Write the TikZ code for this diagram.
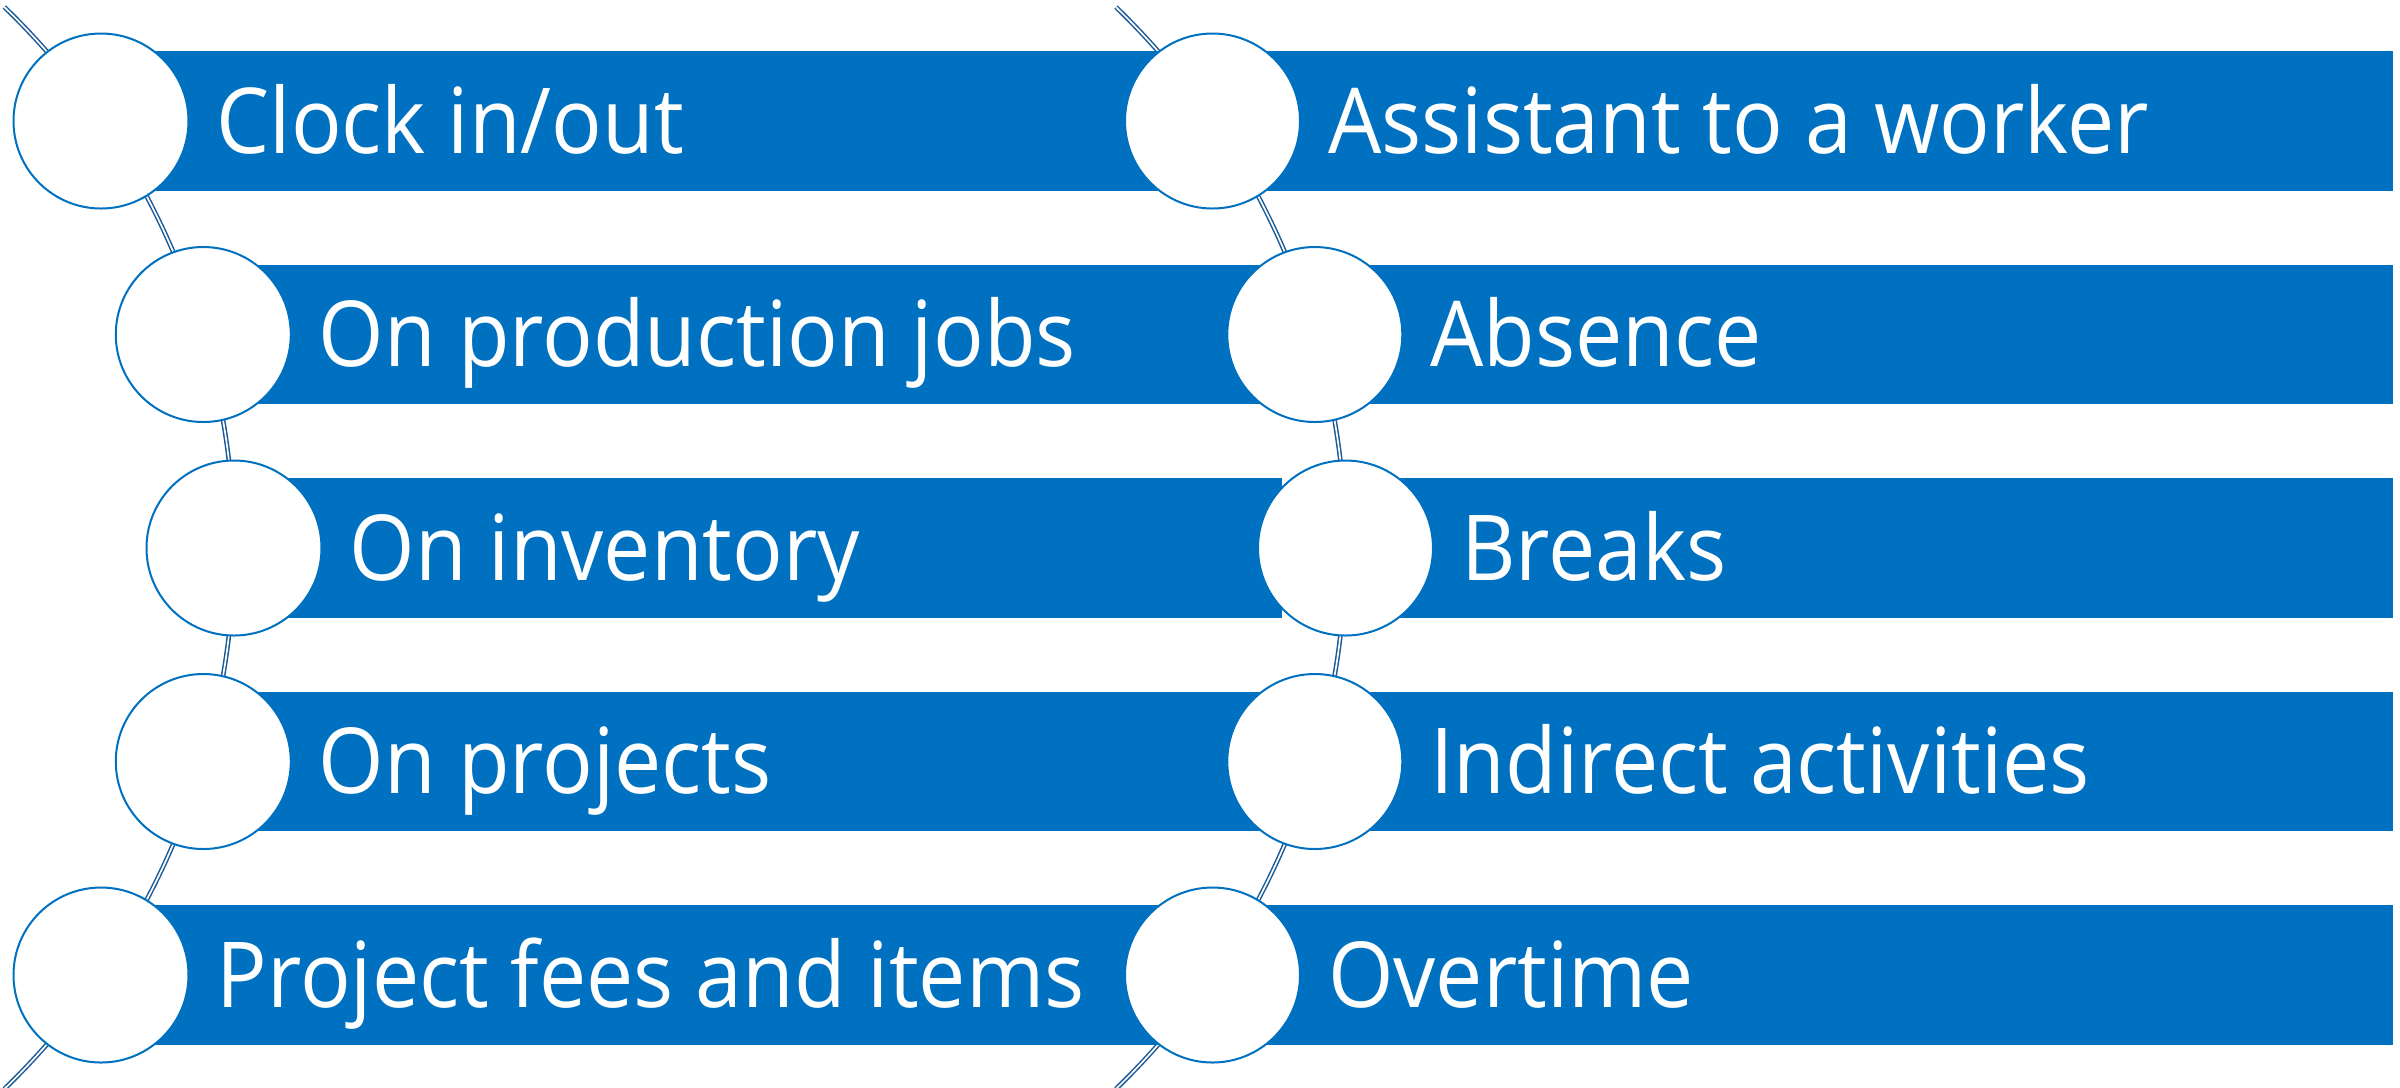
\documentclass[tikz,border=0pt]{standalone}
\usepackage{fontspec}
\setmainfont[FakeStretch=0.925]{Open Sans}
\definecolor{barblue}{HTML}{0070C0}
\definecolor{arcblue}{HTML}{1A5A96}
\begin{document}
\begin{tikzpicture}[x=0.3pt,y=-0.3pt,
  bar/.style={fill=barblue},
  dot/.style={circle, draw=barblue, fill=white, line width=0.6pt, minimum size=52.5pt, inner sep=0pt},
  lbl/.style={anchor=base west, text=white, font=\fontsize{27.3}{30}\selectfont, inner sep=0pt},
  rail/.style={draw=arcblue, double=white, line width=0.45pt, double distance=0.5pt}]
\useasboundingbox (0,0) rectangle (2400,1087);
% arcs
\coordinate (LA) at (-518,548);
\coordinate (RA) at (593.5,548);
\draw[rail] (LA) ++(-46:752) coordinate (Ltop) arc[start angle=-46, end angle=46, radius=752] coordinate (Lbot);
\draw[rail] (RA) ++(-46:752) coordinate (Rtop) arc[start angle=-46, end angle=46, radius=752] coordinate (Rbot);
% bars
\foreach \x/\y in {101/121, 203.3/334.5, 234/548, 203.3/761.5, 101/975}{
  \fill[bar] (\x,\y-69.65) rectangle (1282.3,\y+69.65);
}
\foreach \x/\y in {1212.5/121, 1314.8/334.5, 1345.5/548, 1314.8/761.5, 1212.5/975}{
  \fill[bar] (\x,\y-69.65) rectangle (2392.7,\y+69.65);
}
% circles
\node[dot] (l1) at (101,121) {};
\node[dot] (l2) at (203.3,334.5) {};
\node[dot] (l3) at (234,548) {};
\node[dot] (l4) at (203.3,761.5) {};
\node[dot] (l5) at (101,975) {};
\node[dot] (r1) at (1212.5,121) {};
\node[dot] (r2) at (1314.8,334.5) {};
\node[dot] (r3) at (1345.5,548) {};
\node[dot] (r4) at (1314.8,761.5) {};
\node[dot] (r5) at (1212.5,975) {};
% labels
\path (l1.center) ++(115,32) node[lbl] (t1) {Clock in/out};
\path (l2.center) ++(115,32) node[lbl] (t2) {On production jobs};
\path (l3.center) ++(115,32) node[lbl] (t3) {On inventory};
\path (l4.center) ++(115,32) node[lbl] (t4) {On projects};
\path (l5.center) ++(115,32) node[lbl] (t5) {Project fees and items};
\path (r1.center) ++(115,32) node[lbl] (u1) {Assistant to a worker};
\path (r2.center) ++(115,32) node[lbl] (u2) {Absence};
\path (r3.center) ++(115,32) node[lbl] (u3) {Breaks};
\path (r4.center) ++(115,32) node[lbl] (u4) {Indirect activities};
\path (r5.center) ++(115,32) node[lbl] (u5) {Overtime};
\end{tikzpicture}
\end{document}
